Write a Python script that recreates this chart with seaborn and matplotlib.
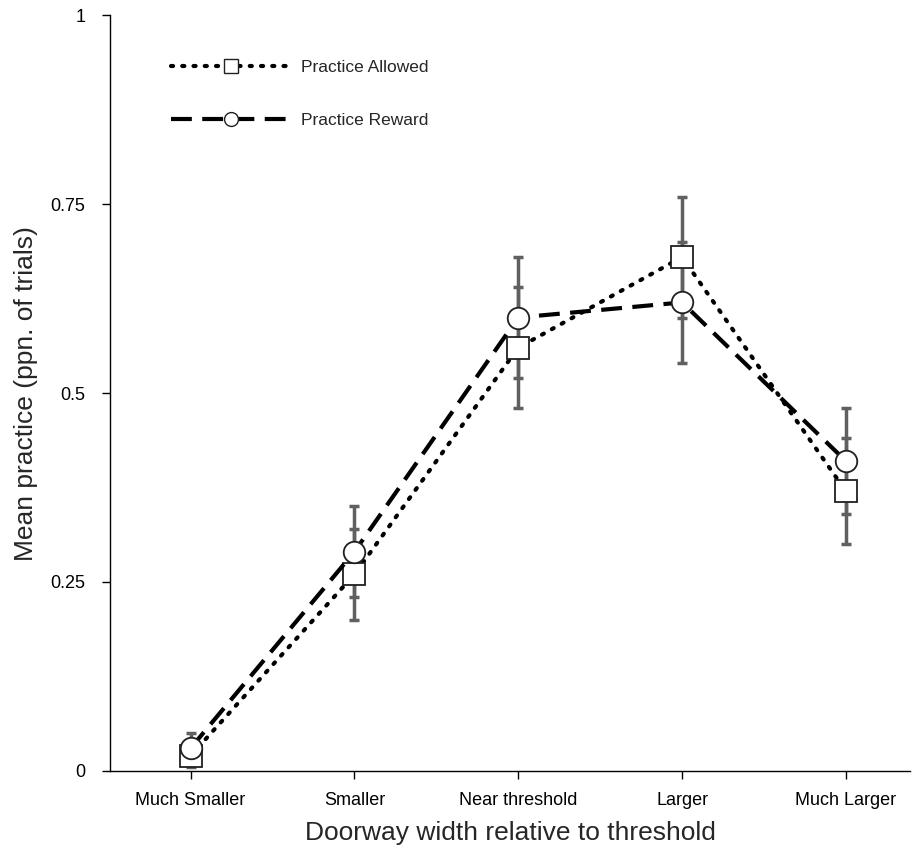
import numpy as np
import pandas as pd
import seaborn as sns
import matplotlib.pyplot as plt
from matplotlib.lines import Line2D

widths = ["Much Smaller", "Smaller", "Near threshold", "Larger", "Much Larger"]
allowed_mean = [0.02, 0.26, 0.56, 0.68, 0.37]
allowed_se = [0.015, 0.06, 0.08, 0.08, 0.07]
reward_mean = [0.03, 0.29, 0.60, 0.62, 0.41]
reward_se = [0.02, 0.06, 0.08, 0.08, 0.07]

sns.set_style("ticks")
plt.rcParams["font.family"] = ["Liberation Sans", "DejaVu Sans"]

df = pd.concat([
    pd.DataFrame({"width": widths, "mean": allowed_mean, "se": allowed_se,
                  "condition": "Practice Allowed"}),
    pd.DataFrame({"width": widths, "mean": reward_mean, "se": reward_se,
                  "condition": "Practice Reward"}),
])

fig = plt.figure(figsize=(9.19, 8.49), dpi=100)
ax = fig.add_axes([0.12, 0.092, 0.87, 0.89])

dotted = (0, (0.5, 2.2))
dashed = (0, (5, 2.5))

xpos = np.arange(len(widths))
# grey error bars sit behind the markers
for cond in ["Practice Allowed", "Practice Reward"]:
    sub = df[df["condition"] == cond]
    ax.errorbar(xpos, sub["mean"], yerr=sub["se"], fmt="none", ecolor="#606060",
                elinewidth=2.5, capsize=3.5, capthick=2.5, zorder=1)

sns.lineplot(data=df[df["condition"] == "Practice Allowed"], x="width", y="mean",
             ax=ax, color="black", linestyle=dotted, linewidth=3,
             dash_capstyle="round", marker="s", markersize=15.5,
             markerfacecolor="white", markeredgecolor="#202020",
             markeredgewidth=1.3, sort=False, zorder=3)
sns.lineplot(data=df[df["condition"] == "Practice Reward"], x="width", y="mean",
             ax=ax, color="black", linestyle=dashed, linewidth=3,
             marker="o", markersize=15.5, markerfacecolor="white",
             markeredgecolor="#202020", markeredgewidth=1.3, sort=False, zorder=4)

ax.set_xlim(-0.49, 4.39)
ax.set_ylim(0, 1)
ax.set_xticks(xpos)
ax.set_xticklabels(widths, fontsize=13)
ax.set_yticks([0, 0.25, 0.5, 0.75, 1])
ax.set_yticklabels(["0", "0.25", "0.5", "0.75", "1"], fontsize=13)
ax.tick_params(axis="x", direction="out", length=6, width=1, colors="black", pad=9)
ax.tick_params(axis="y", direction="out", length=6, width=1, colors="black", pad=12)
ax.set_xlabel("Doorway width relative to threshold", fontsize=19, labelpad=9)
ax.set_ylabel("Mean practice (ppn. of trials)", fontsize=19, labelpad=9)
sns.despine(ax=ax)
for s in ["left", "bottom"]:
    ax.spines[s].set_color("black")
    ax.spines[s].set_linewidth(1)

handles = [
    Line2D([], [], color="black", linestyle=dotted, linewidth=3,
           dash_capstyle="round", marker="s", markersize=10,
           markerfacecolor="white", markeredgecolor="#202020"),
    Line2D([], [], color="black", linestyle=dashed, linewidth=3,
           marker="o", markersize=10, markerfacecolor="white",
           markeredgecolor="#202020"),
]
ax.legend(handles, ["Practice Allowed", "Practice Reward"], loc="upper left",
          bbox_to_anchor=(0.056, 0.962), frameon=False, fontsize=12.5,
          labelspacing=2.2, handlelength=7.0, handletextpad=0.5,
          borderpad=0.4)

fig.savefig("out.png", dpi=100)
